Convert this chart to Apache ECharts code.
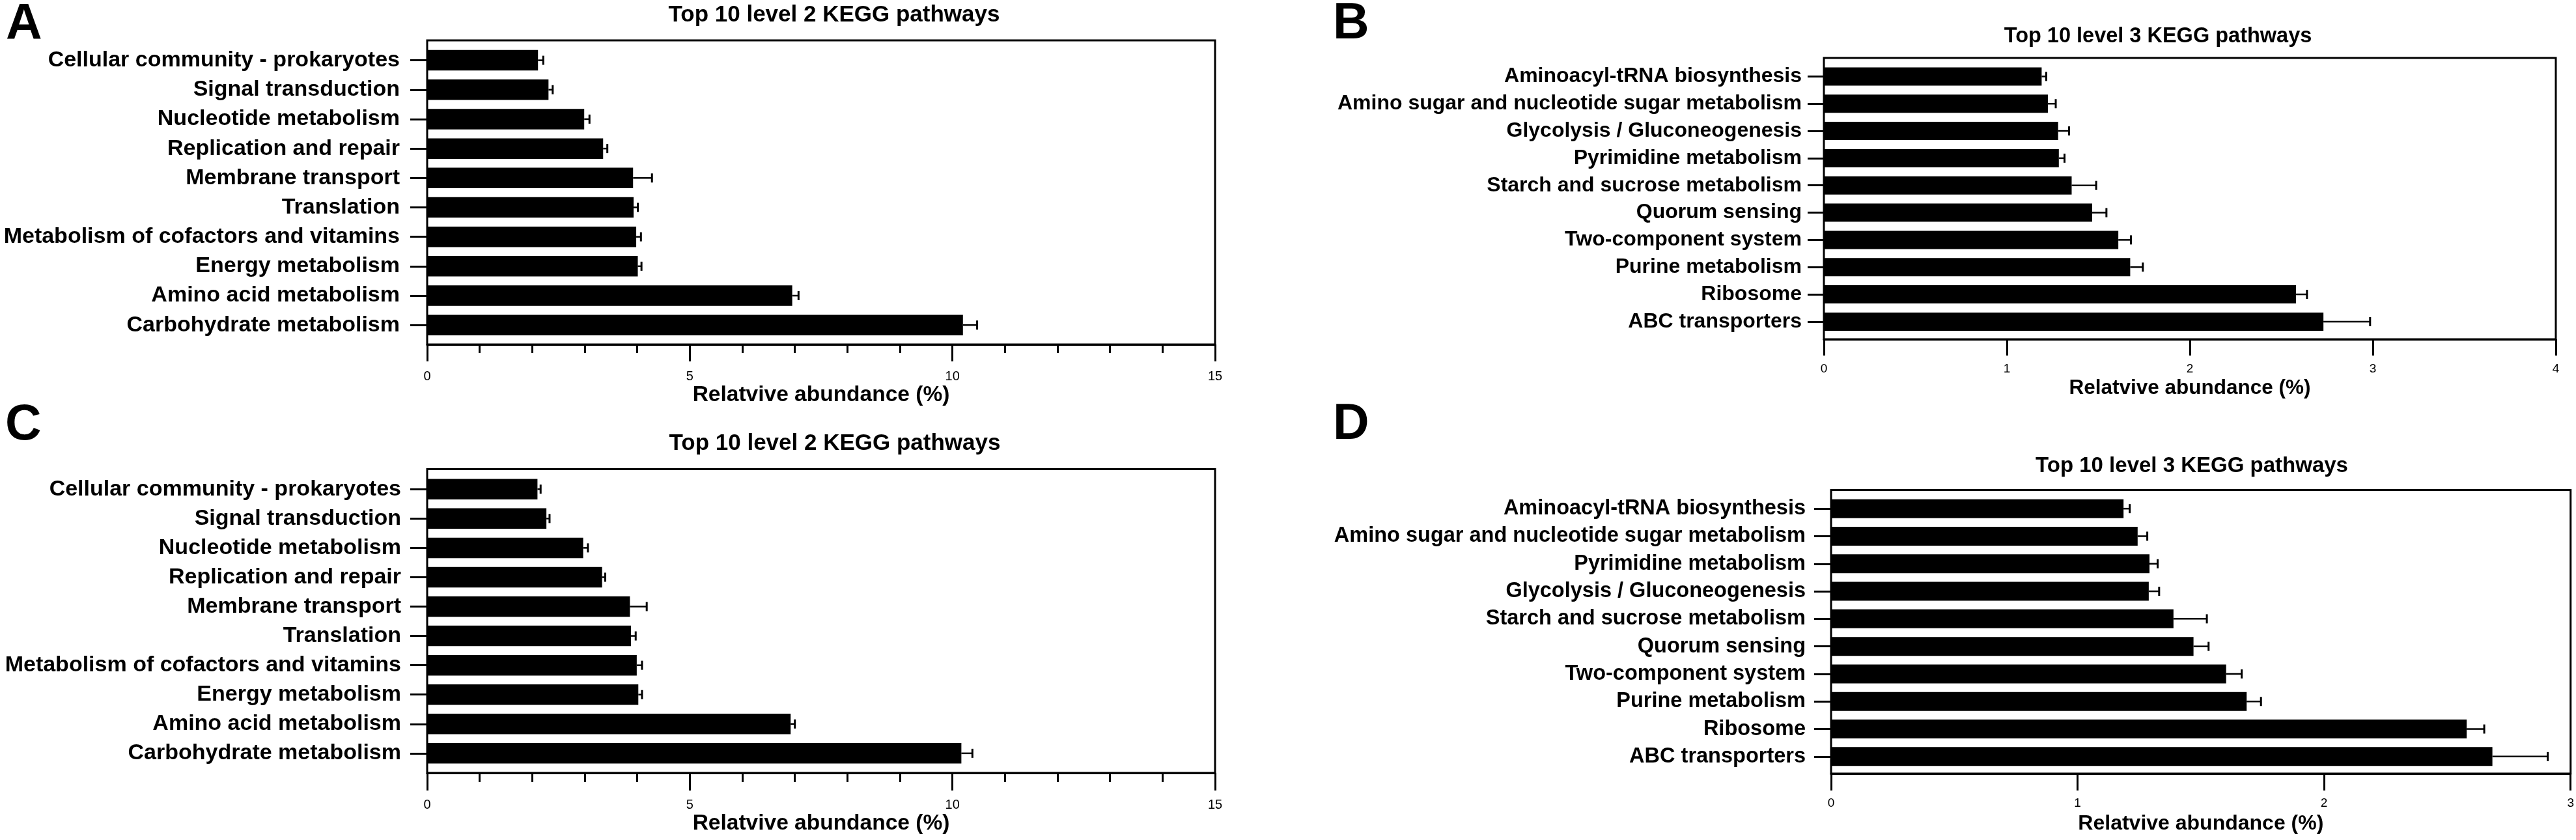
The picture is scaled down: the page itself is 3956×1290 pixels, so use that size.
<!DOCTYPE html>
<html>
<head>
<meta charset="utf-8">
<script src="https://cdn.jsdelivr.net/npm/echarts@6/dist/echarts.min.js"></script>
<style>
  html, body { margin: 0; padding: 0; background: #fff; }
  #chart { width: 3956px; height: 1290px; }
</style>
</head>
<body>
<div id="chart"></div>
<script>
// ---- data ----
const level2Pathways = [
  'Cellular community - prokaryotes',
  'Signal transduction',
  'Nucleotide metabolism',
  'Replication and repair',
  'Membrane transport',
  'Translation',
  'Metabolism of cofactors and vitamins',
  'Energy metabolism',
  'Amino acid metabolism',
  'Carbohydrate metabolism',
];
const panelAMeans = [2.11, 2.31, 2.99, 3.35, 3.92, 3.93, 3.98, 4.01, 6.95, 10.20];
const panelAErrors = [0.10, 0.08, 0.10, 0.08, 0.36, 0.08, 0.09, 0.07, 0.12, 0.27];

const panelBPathways = [
  'Aminoacyl-tRNA biosynthesis',
  'Amino sugar and nucleotide sugar metabolism',
  'Glycolysis / Gluconeogenesis',
  'Pyrimidine metabolism',
  'Starch and sucrose metabolism',
  'Quorum sensing',
  'Two-component system',
  'Purine metabolism',
  'Ribosome',
  'ABC transporters',
];
const panelBMeans = [1.19, 1.224, 1.28, 1.284, 1.354, 1.466, 1.609, 1.674, 2.58, 2.73];
const panelBErrors = [0.025, 0.043, 0.06, 0.031, 0.134, 0.078, 0.069, 0.069, 0.06, 0.255];

const panelCMeans = [2.10, 2.27, 2.97, 3.33, 3.86, 3.88, 3.99, 4.02, 6.92, 10.17];
const panelCErrors = [0.06, 0.06, 0.09, 0.06, 0.32, 0.09, 0.10, 0.07, 0.08, 0.21];

const panelDPathways = [
  'Aminoacyl-tRNA biosynthesis',
  'Amino sugar and nucleotide sugar metabolism',
  'Pyrimidine metabolism',
  'Glycolysis / Gluconeogenesis',
  'Starch and sucrose metabolism',
  'Quorum sensing',
  'Two-component system',
  'Purine metabolism',
  'Ribosome',
  'ABC transporters',
];
const panelDMeans = [1.183, 1.240, 1.288, 1.285, 1.385, 1.466, 1.598, 1.681, 2.571, 2.675];
const panelDErrors = [0.025, 0.039, 0.033, 0.042, 0.135, 0.061, 0.063, 0.058, 0.071, 0.224];

const axisTitle = 'Relatvive abundance (%)';
const FONT = "'Liberation Sans', Arial, Helvetica, sans-serif";

// ---- layout of the four panels ----
const panels = [
  {
    letter: 'A', letterX: 9, letterY: 39, title: 'Top 10 level 2 KEGG pathways', titleX: 1281, titleY: 23, titleSize: 35,
    names: level2Pathways, means: panelAMeans, errors: panelAErrors,
    left: 656, right: 1866, top: 62, bottom: 529, bandTop: 70, bandBottom: 521.8,
    max: 15, interval: 5, minor: true, majorTick: 26, minorTick: 13,
    labelSize: 34, labelMargin: 42, yTick: 26, barWidth: 31.5,
    tickFont: 20, tickMargin: 39, nameSize: 33.5, nameGap: 61,
  },
  {
    letter: 'B', letterX: 2047, letterY: 38, title: 'Top 10 level 3 KEGG pathways', titleX: 3314, titleY: 56, titleSize: 32.5,
    names: panelBPathways, means: panelBMeans, errors: panelBErrors,
    left: 2801, right: 3925, top: 89, bottom: 521, bandTop: 96.5, bandBottom: 514.8,
    max: 4, interval: 1, minor: false, majorTick: 25, minorTick: 0,
    labelSize: 32, labelMargin: 34, yTick: 25, barWidth: 28,
    tickFont: 19, tickMargin: 36, nameSize: 31.5, nameGap: 59,
  },
  {
    letter: 'C', letterX: 8, letterY: 654, title: 'Top 10 level 2 KEGG pathways', titleX: 1282, titleY: 681, titleSize: 35,
    names: level2Pathways, means: panelCMeans, errors: panelCErrors,
    left: 656, right: 1866, top: 720.4, bottom: 1187, bandTop: 728.7, bandBottom: 1179.4,
    max: 15, interval: 5, minor: true, majorTick: 27, minorTick: 14,
    labelSize: 34, labelMargin: 40, yTick: 26, barWidth: 31.5,
    tickFont: 20, tickMargin: 39, nameSize: 33.5, nameGap: 61,
  },
  {
    letter: 'D', letterX: 2047, letterY: 653, title: 'Top 10 level 3 KEGG pathways', titleX: 3366, titleY: 716, titleSize: 33,
    names: panelDPathways, means: panelDMeans, errors: panelDErrors,
    left: 2812, right: 3951, top: 752.5, bottom: 1188, bandTop: 760, bandBottom: 1183,
    max: 3, interval: 1, minor: false, majorTick: 26, minorTick: 0,
    labelSize: 32.5, labelMargin: 39, yTick: 26, barWidth: 29,
    tickFont: 19, tickMargin: 36, nameSize: 32, nameGap: 61,
  },
];

// one-sided error bar: line from the bar end to mean + error, with a cap
function errorBar(params, api) {
  const idx = api.value(1);
  const start = api.coord([api.value(0), idx]);
  const end = api.coord([api.value(2), idx]);
  const half = 7;
  return {
    type: 'group',
    children: [
      { type: 'line', shape: { x1: start[0], y1: start[1], x2: end[0], y2: end[1] }, style: { stroke: '#000', lineWidth: 2.5 } },
      { type: 'line', shape: { x1: end[0], y1: end[1] - half, x2: end[0], y2: end[1] + half }, style: { stroke: '#000', lineWidth: 3 } },
    ],
  };
}

const option = {
  backgroundColor: '#fff',
  animation: false,
  grid: [], xAxis: [], yAxis: [], series: [], graphic: [],
};

panels.forEach((p, i) => {
  const frame = 2 * i;
  const bars = 2 * i + 1;
  const black = { color: '#000', width: 3 };

  // outer box with the value axis
  option.grid.push({
    left: p.left, top: p.top, width: p.right - p.left, height: p.bottom - p.top,
    show: true, borderColor: '#000', borderWidth: 3, backgroundColor: 'transparent',
  });
  // inner band area holding the categories
  option.grid.push({
    left: p.left, top: p.bandTop, width: p.right - p.left, height: p.bandBottom - p.bandTop,
  });

  option.xAxis.push({
    gridIndex: frame, type: 'value', position: 'bottom', min: 0, max: p.max, interval: p.interval,
    axisLine: { show: true, onZero: false, lineStyle: black },
    axisTick: { show: true, length: p.majorTick, lineStyle: black },
    minorTick: { show: p.minor, splitNumber: p.interval, length: p.minorTick, lineStyle: black },
    splitLine: { show: false },
    minorSplitLine: { show: false },
    axisLabel: { color: '#000', fontFamily: FONT, fontSize: p.tickFont, margin: p.tickMargin },
    name: axisTitle, nameLocation: 'middle', nameGap: p.nameGap,
    nameTextStyle: { color: '#000', fontFamily: FONT, fontWeight: 'bold', fontSize: p.nameSize },
  });
  option.yAxis.push({ gridIndex: frame, type: 'value', show: false, min: 0, max: 1 });

  option.xAxis.push({ gridIndex: bars, type: 'value', min: 0, max: p.max, show: false });
  option.yAxis.push({
    gridIndex: bars, type: 'category', inverse: true, data: p.names,
    axisLine: { show: false },
    axisTick: { show: true, alignWithLabel: true, length: p.yTick, lineStyle: black },
    axisLabel: { interval: 0, color: '#000', fontFamily: FONT, fontWeight: 'bold', fontSize: p.labelSize, margin: p.labelMargin },
    splitLine: { show: false },
  });

  option.series.push({
    type: 'bar', xAxisIndex: bars, yAxisIndex: bars, data: p.means,
    barWidth: p.barWidth, itemStyle: { color: '#000' }, silent: true,
  });
  option.series.push({
    type: 'custom', xAxisIndex: bars, yAxisIndex: bars,
    data: p.means.map((m, k) => [m, k, m + p.errors[k]]),
    encode: { x: [0, 2], y: 1 },
    renderItem: errorBar, silent: true, z: 3,
  });

  option.graphic.push({
    type: 'text', x: p.letterX, y: p.letterY,
    style: { text: p.letter, fill: '#000', font: 'bold 77px ' + FONT, align: 'left', verticalAlign: 'middle' },
  });
  option.graphic.push({
    type: 'text', x: p.titleX, y: p.titleY,
    style: { text: p.title, fill: '#000', font: 'bold ' + p.titleSize + 'px ' + FONT, align: 'center', verticalAlign: 'middle' },
  });
});

const chart = echarts.init(document.getElementById('chart'), null, { renderer: 'canvas' });
chart.setOption(option);
</script>
</body>
</html>
